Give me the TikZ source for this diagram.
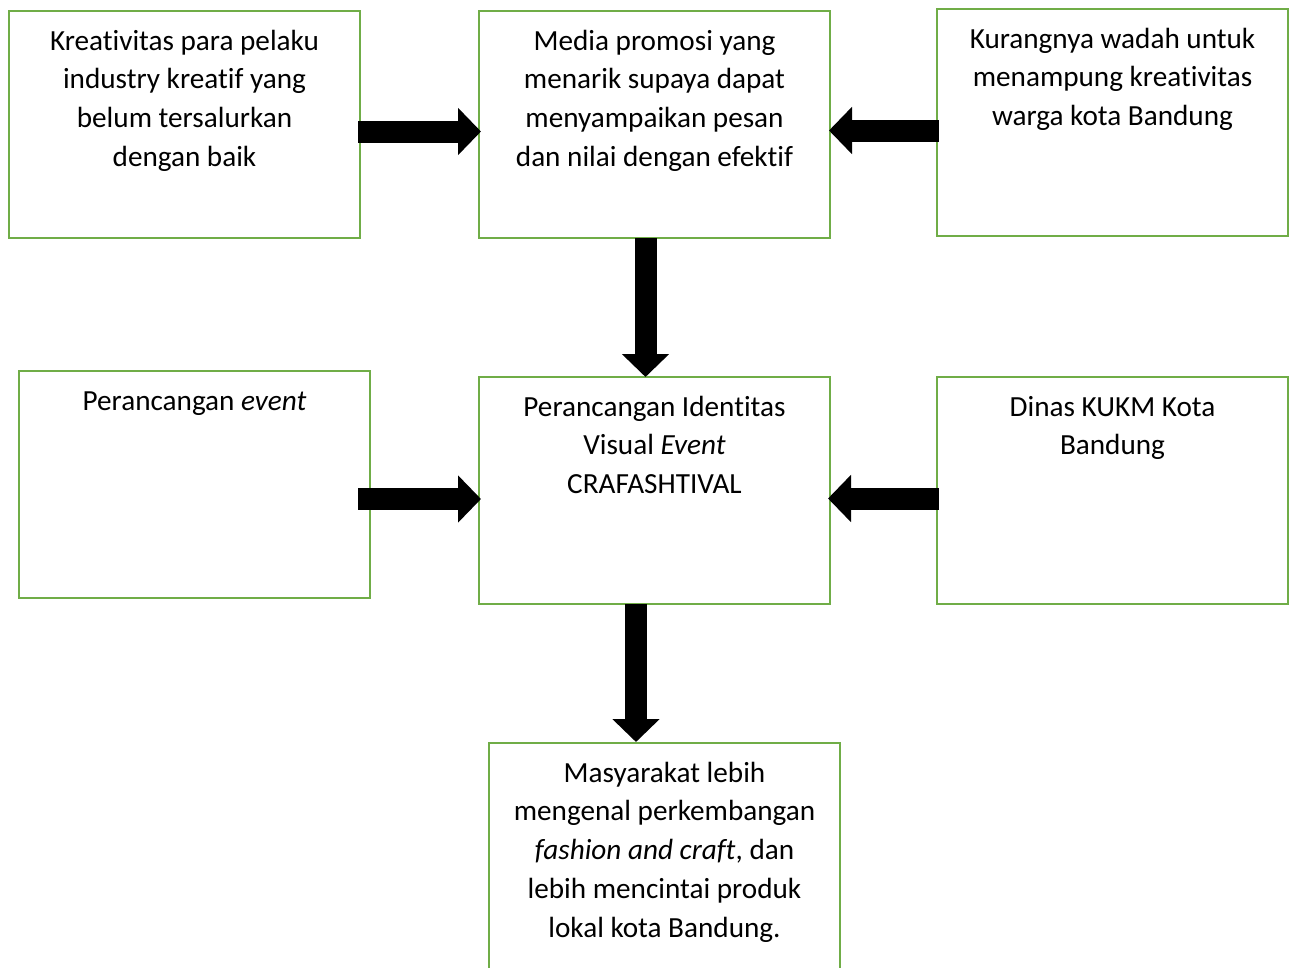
\documentclass[tikz,border=0pt]{standalone}
\usepackage{fontspec}
\setmainfont{Carlito}[RawFeature={-liga;-clig;-dlig}]
\usetikzlibrary{arrows.meta}
\definecolor{boxgreen}{RGB}{112,173,71}
\tikzset{
  box/.style={draw=boxgreen, line width=2pt, fill=white, rectangle, inner sep=0pt, outer sep=0pt,
    minimum width=351pt, minimum height=227pt, anchor=north west},
  txt/.style={anchor=north, inner sep=0pt, align=center,
    font=\fontsize{29.2}{38.8}\selectfont},
  blockarrow/.style={line width=22pt, line cap=butt,
    -{Triangle[width=46pt, length=23pt]}},
}
\begin{document}
\begin{tikzpicture}[x=1pt, y=-1pt]
\clip (0,0) rectangle (1295,967);
\fill[white] (0,0) rectangle (1295,967);
% boxes
\node[box] (b1) at (9,11) {};
\node[box] (b2) at (479,11) {};
\node[box] (b3) at (937,9) {};
\node[box] (b4) at (19,371) {};
\node[box] (b5) at (479,377) {};
\node[box] (b6) at (937,377) {};
\node[box, minimum height=260pt] (b7) at (489,743) {};
% texts
\node[txt] (t1) at ([yshift=-11.8pt]b1.north) {\strut Kreativitas para pelaku\\ industry kreatif yang\\ belum tersalurkan\\ dengan baik};
\node[txt] (t2) at ([yshift=-11.8pt]b2.north) {\strut Media promosi yang\\ menarik supaya dapat\\ menyampaikan pesan\\ dan nilai dengan efektif};
\node[txt] (t3) at ([yshift=-11.8pt]b3.north) {\strut Kurangnya wadah untuk\\ menampung kreativitas\\ warga kota Bandung};
\node[txt] (t4) at ([yshift=-11.8pt]b4.north) {\strut Perancangan \textit{event}};
\node[txt] (t5) at ([yshift=-11.8pt]b5.north) {\strut Perancangan Identitas\\ Visual \textit{Event}\\ CRAFASHTIVAL};
\node[txt] (t6) at ([yshift=-11.8pt]b6.north) {\strut Dinas KUKM Kota\\ Bandung};
\node[txt] (t7) at ([yshift=-11.8pt]b7.north) {\strut Masyarakat lebih\\ mengenal perkembangan\\ \textit{fashion and craft}, dan\\ lebih mencintai produk\\ lokal kota Bandung.};
% arrow anchor points
\coordinate (a1s) at ([shift={(-2,7)}]b1.east);
\coordinate (a1e) at ([shift={(2,0)}]b2.west |- a1s);
\coordinate (a2s) at ([shift={(2,8)}]b3.west);
\coordinate (a2e) at ([shift={(-1,0)}]b2.east |- a2s);
\coordinate (a3s) at ([shift={(-9,0)}]b2.south);
\coordinate (a3e) at (a3s |- b5.north);
\coordinate (a4s) at ([shift={(-12,14.5)}]b4.east);
\coordinate (a4e) at ([shift={(2,0)}]b5.west |- a4s);
\coordinate (a5s) at ([shift={(2,8)}]b6.west);
\coordinate (a5e) at ([shift={(-2,0)}]b5.east |- a5s);
\coordinate (a6s) at ([shift={(-18.5,0)}]b5.south);
\coordinate (a6e) at ([shift={(0,-1)}]a6s |- b7.north);
% arrows
\draw[blockarrow] (a1s) -- (a1e);
\draw[blockarrow] (a2s) -- (a2e);
\draw[blockarrow] (a3s) -- (a3e);
\draw[blockarrow] (a4s) -- (a4e);
\draw[blockarrow] (a5s) -- (a5e);
\draw[blockarrow] (a6s) -- (a6e);
\end{tikzpicture}
\end{document}
